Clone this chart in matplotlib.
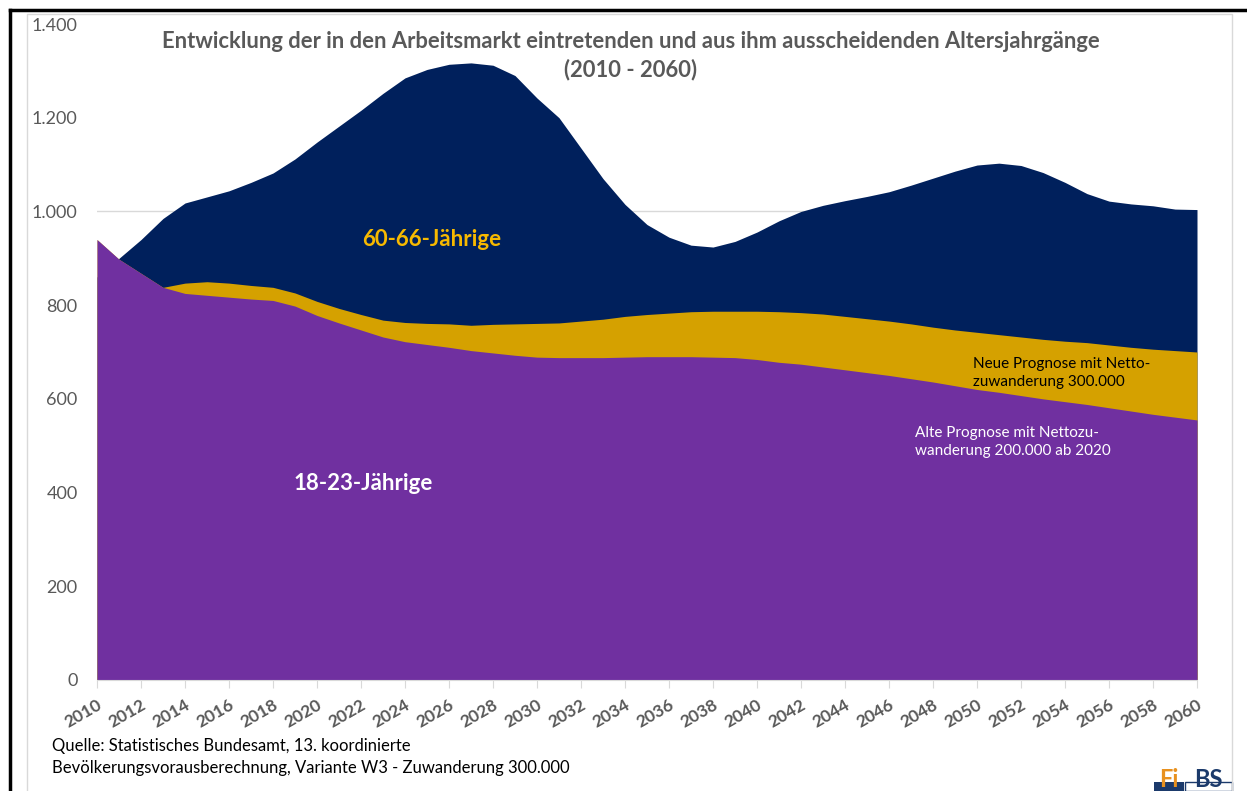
import numpy as np
import matplotlib.pyplot as plt
from matplotlib.lines import Line2D
from matplotlib.patches import Rectangle

years = list(range(2010, 2061))

# 60-66-Jaehrige (aus dem Arbeitsmarkt ausscheidend)
aeltere = [860, 900, 940, 985, 1018, 1031, 1044, 1062, 1082, 1112,
           1148, 1182, 1216, 1252, 1285, 1303, 1314, 1317, 1312, 1290,
           1242, 1200, 1135, 1070, 1015, 972, 945, 928, 924, 936,
           956, 980, 1000, 1013, 1023, 1032, 1042, 1056, 1071, 1086,
           1099, 1103, 1098, 1083, 1062, 1038, 1022, 1016, 1012, 1005,
           1004]

# 18-23-Jaehrige, neue Prognose (Nettozuwanderung 300.000)
neu = [940, 898, 868, 838, 847, 850, 847, 842, 838, 826,
       808, 793, 780, 768, 763, 761, 760, 757, 759, 760,
       761, 762, 766, 770, 776, 780, 783, 786, 787, 787,
       787, 786, 784, 781, 776, 771, 766, 760, 753, 747,
       742, 737, 732, 727, 723, 720, 715, 710, 706, 703,
       700]

# 18-23-Jaehrige, alte Prognose (Nettozuwanderung 200.000 ab 2020)
alt = [940, 898, 868, 838, 825, 821, 817, 813, 810, 798,
       778, 762, 747, 732, 722, 716, 710, 703, 698, 693,
       689, 688, 688, 688, 689, 690, 690, 690, 689, 688,
       684, 678, 674, 668, 662, 656, 650, 643, 636, 628,
       620, 614, 607, 600, 594, 588, 581, 574, 567, 561,
       555]

y_ticks = [0, 200, 400, 600, 800, 1000, 1200, 1400]
x_ticks = list(range(2010, 2061, 2))

NAVY = '#00205C'
GOLD = '#D5A100'
PURPLE = '#7030A0'
GREY = '#595959'

plt.rcParams['font.family'] = ['Lato', 'DejaVu Sans']

fig = plt.figure(figsize=(12.47, 7.91), dpi=100)
ax = fig.add_axes([97 / 1247, 111 / 791, 1100 / 1247, 656 / 791])

ax.axhline(1000, color='#D9D9D9', lw=1, zorder=0)
ax.fill_between(years, 0, aeltere, color=NAVY, lw=0, zorder=1)
ax.fill_between(years, 0, neu, color=GOLD, lw=0, zorder=2)
ax.fill_between(years, 0, alt, color=PURPLE, lw=0, zorder=3)

ax.set_xlim(2010, 2060)
ax.set_ylim(0, 1400)
ax.set_yticks(y_ticks)
ax.set_yticklabels([f'{v:,}'.replace(',', '.') for v in y_ticks],
                   color=GREY, fontsize=13)
ax.set_xticks(x_ticks)
ax.set_xticklabels([str(x) for x in x_ticks], rotation=30, ha='right',
                   rotation_mode='anchor', color=GREY, fontsize=12.5,
                   fontweight='bold')
ax.tick_params(axis='y', length=0, pad=14)
ax.tick_params(axis='x', length=6, color='#D9D9D9', pad=6)
for side in ['top', 'right', 'left']:
    ax.spines[side].set_visible(False)
ax.spines['bottom'].set_color('#D9D9D9')
ax.spines['bottom'].set_zorder(4)

fig.text(631 / 1247, 1 - 42 / 791,
         'Entwicklung der in den Arbeitsmarkt eintretenden und aus ihm '
         'ausscheidenden Altersjahrgänge',
         ha='center', va='center', color=GREY, fontsize=15.8, fontweight='bold')
fig.text(631 / 1247, 1 - 70 / 791, '(2010 - 2060)',
         ha='center', va='center', color=GREY, fontsize=15.8, fontweight='bold')

ax.text(2025.2, 940, '60-66-Jährige', ha='center', va='center',
        color='#F7B900', fontsize=16, fontweight='bold', zorder=5)
ax.text(2022.1, 420, '18-23-Jährige', ha='center', va='center',
        color='white', fontsize=16, fontweight='bold', zorder=5)
ax.text(2049.8, 655, 'Neue Prognose mit Netto-\nzuwanderung 300.000',
        ha='left', va='center', color='black', fontsize=11,
        linespacing=1.3, zorder=5)
ax.text(2047.2, 508, 'Alte Prognose mit Nettozu-\nwanderung 200.000 ab 2020',
        ha='left', va='center', color='white', fontsize=11,
        linespacing=1.3, zorder=5)

fig.text(52 / 1247, 1 - 746 / 791,
         'Quelle: Statistisches Bundesamt, 13. koordinierte',
         ha='left', va='center', color='black', fontsize=12)
fig.text(52 / 1247, 1 - 768 / 791,
         'Bevölkerungsvorausberechnung, Variante W3 - Zuwanderung 300.000',
         ha='left', va='center', color='black', fontsize=12)

# frame lines
fig.add_artist(Line2D([10 / 1247, 10 / 1247], [0, 1 - 10 / 791],
                      color='black', lw=2.5))
fig.add_artist(Line2D([10 / 1247, 1], [1 - 10 / 791, 1 - 10 / 791],
                      color='black', lw=2.5))
fig.add_artist(Line2D([27 / 1247, 27 / 1247, 1232 / 1247, 1232 / 1247],
                      [0, 1 - 14 / 791, 1 - 14 / 791, 0],
                      color='#D9D9D9', lw=1))

# logo
fig.add_artist(Rectangle((1154 / 1247, 0), 30 / 1247, 9 / 791,
                         transform=fig.transFigure, color='#1B3A6B', lw=0))
fig.add_artist(Rectangle((1185 / 1247, 0), 47 / 1247, 9 / 791,
                         transform=fig.transFigure, facecolor='white',
                         edgecolor='#1B3A6B', lw=1))
fig.text(1169 / 1247, 0, 'Fi', ha='center', va='bottom',
         color='#E8911F', fontsize=17, fontweight='bold')
fig.text(1208 / 1247, 0, 'BS', ha='center', va='bottom',
         color='#1B3A6B', fontsize=17, fontweight='bold')

fig.savefig('out.png', dpi=100)
